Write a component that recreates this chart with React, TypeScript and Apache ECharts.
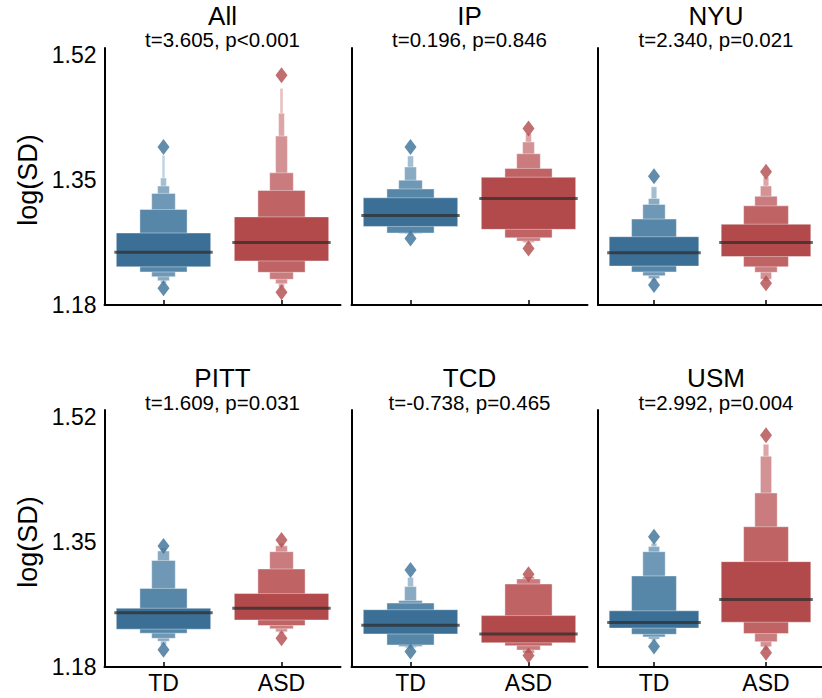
import React, { useEffect, useRef } from 'react';
import * as echarts from 'echarts';

const sites = ['All', 'IP', 'NYU', 'PITT', 'TCD', 'USM'];
const statLabels = [
  't=3.605, p<0.001',
  't=0.196, p=0.846',
  't=2.340, p=0.021',
  't=1.609, p=0.031',
  't=-0.738, p=0.465',
  't=2.992, p=0.004',
];
const groups = ['TD', 'ASD'];
const yTickValues = [1.18, 1.35, 1.52];

const tdMedian = [1.252, 1.302, 1.251, 1.254, 1.237, 1.2405];
const asdMedian = [1.265, 1.325, 1.265, 1.26, 1.225, 1.272];

// letter-value boxes per site, [low, high], widest (quartiles) first
const tdBoxes = [
  [[1.232, 1.278], [1.225, 1.31], [1.2185, 1.332], [1.213, 1.342], [1.2095, 1.353], [1.207, 1.384]],
  [[1.287, 1.326], [1.278, 1.338], [1.2775, 1.35], [1.2766, 1.368], [1.275, 1.383]],
  [[1.233, 1.273], [1.225, 1.297], [1.22, 1.317], [1.216, 1.325], [1.213, 1.341]],
  [[1.2315, 1.26], [1.226, 1.287], [1.219, 1.325], [1.215, 1.338], [1.21, 1.342]],
  [[1.225, 1.258], [1.21, 1.267], [1.208, 1.2705], [1.2065, 1.2895], [1.205, 1.302]],
  [[1.233, 1.2565], [1.2245, 1.304], [1.221, 1.337], [1.218, 1.344], [1.216, 1.3485]],
];
const asdBoxes = [
  [[1.24, 1.3], [1.2245, 1.336], [1.215, 1.36], [1.209, 1.41], [1.204, 1.441], [1.2, 1.475]],
  [[1.283, 1.354], [1.2715, 1.366], [1.267, 1.386], [1.265, 1.402], [1.263, 1.4135]],
  [[1.246, 1.29], [1.232, 1.315], [1.2245, 1.328], [1.215, 1.342], [1.213, 1.354]],
  [[1.244, 1.28], [1.2365, 1.3135], [1.232, 1.337], [1.228, 1.345], [1.226, 1.3485]],
  [[1.213, 1.25], [1.209, 1.293], [1.203, 1.3], [1.199, 1.303]],
  [[1.241, 1.3235], [1.2255, 1.371], [1.2145, 1.417], [1.2075, 1.467], [1.203, 1.4835]],
];
const tdOutliers = [
  [1.2027, 1.3953],
  [1.2707, 1.3953],
  [1.2072, 1.3554],
  [1.2034, 1.3448],
  [1.2011, 1.3122],
  [1.2079, 1.3575],
];
const asdOutliers = [
  [1.1973, 1.4928],
  [1.2571, 1.4203],
  [1.2095, 1.3613],
  [1.2193, 1.353],
  [1.1957, 1.3063],
  [1.1995, 1.4956],
];

const tdColors = ['#3b6f96', '#5686a8', '#6f98b6', '#89aac3', '#a4bed2', '#c3d5e3'];
const asdColors = ['#b24a4c', '#bf6365', '#c97b7d', '#d39294', '#dca6a7', '#e7c0c1'];

const FONT = '"Liberation Sans", Arial, Helvetica, sans-serif';
const colLeft = [104.5, 351.5, 598];
const rowTop = [48, 410];
const gridW = 236;
const gridH = 257;

function buildOption() {
  const grid: any[] = [];
  const xAxis: any[] = [];
  const yAxis: any[] = [];
  const series: any[] = [];
  const graphic: any[] = [];

  for (let p = 0; p < 6; p++) {
    const row = Math.floor(p / 3);
    const col = p % 3;
    grid.push({ left: colLeft[col], top: rowTop[row], width: gridW, height: gridH, containLabel: false });
    xAxis.push({
      type: 'category',
      gridIndex: p,
      data: groups,
      boundaryGap: true,
      axisLine: { show: true, lineStyle: { color: '#000', width: 2 } },
      axisTick: { show: true, inside: true, length: 5, alignWithLabel: true, lineStyle: { color: '#000', width: 1.5 } },
      axisLabel: { show: row === 1, fontSize: 23, color: '#000', fontFamily: FONT, margin: 4 },
      splitLine: { show: false },
    });
    yAxis.push({
      type: 'value',
      gridIndex: p,
      min: 1.18,
      max: 1.53,
      axisLine: { show: true, lineStyle: { color: '#000', width: 2 } },
      axisTick: { show: false },
      splitLine: { show: false },
      axisLabel: {
        show: col === 0,
        customValues: yTickValues,
        fontSize: 23,
        color: '#000',
        fontFamily: FONT,
        margin: 8,
        formatter: (v: number) => v.toFixed(2),
      },
    });

    const boxData: any[] = [];
    [tdBoxes[p], asdBoxes[p]].forEach((levels, cat) => {
      for (let lvl = levels.length - 1; lvl >= 0; lvl--) {
        boxData.push([cat, levels[lvl][0], levels[lvl][1], lvl]);
      }
    });
    series.push({
      type: 'custom',
      name: sites[p] + ' boxes',
      xAxisIndex: p,
      yAxisIndex: p,
      data: boxData,
      encode: { x: 0, y: [1, 2] },
      renderItem: (params: any, api: any) => {
        const cat = api.value(0);
        const lvl = api.value(3);
        const a = api.coord([cat, api.value(1)]);
        const b = api.coord([cat, api.value(2)]);
        const band = api.size([1, 0])[0];
        const w = band * 0.8 * Math.pow(0.5, lvl);
        const colors = cat === 0 ? tdColors : asdColors;
        return {
          type: 'rect',
          shape: { x: a[0] - w / 2, y: b[1], width: w, height: a[1] - b[1] },
          style: { fill: colors[Math.min(lvl, colors.length - 1)], stroke: 'rgba(255,255,255,0.4)', lineWidth: 1 },
        };
      },
    });
    series.push({
      type: 'custom',
      name: sites[p] + ' medians',
      xAxisIndex: p,
      yAxisIndex: p,
      z: 3,
      data: [[0, tdMedian[p]], [1, asdMedian[p]]],
      encode: { x: 0, y: 1 },
      renderItem: (params: any, api: any) => {
        const c = api.coord([api.value(0), api.value(1)]);
        const band = api.size([1, 0])[0];
        const w = band * 0.8 + 4;
        return {
          type: 'line',
          shape: { x1: c[0] - w / 2, y1: c[1], x2: c[0] + w / 2, y2: c[1] },
          style: { stroke: 'rgba(45,45,45,0.72)', lineWidth: 3 },
        };
      },
    });
    const outData: any[] = [];
    tdOutliers[p].forEach((v) => outData.push({ value: ['TD', v], itemStyle: { color: tdColors[0] } }));
    asdOutliers[p].forEach((v) => outData.push({ value: ['ASD', v], itemStyle: { color: asdColors[0] } }));
    series.push({
      type: 'scatter',
      name: sites[p] + ' outliers',
      xAxisIndex: p,
      yAxisIndex: p,
      z: 4,
      symbol: 'diamond',
      symbolSize: [12, 16],
      data: outData,
    });

    const cx = colLeft[col] + gridW / 2;
    graphic.push({
      type: 'text',
      x: cx,
      y: row === 0 ? 15.5 : 378,
      style: { text: sites[p], font: `26px ${FONT}`, fill: '#000', textAlign: 'center', textVerticalAlign: 'middle' },
    });
    graphic.push({
      type: 'text',
      x: cx,
      y: row === 0 ? 39.5 : 402.5,
      style: { text: statLabels[p], font: `20.5px ${FONT}`, fill: '#000', textAlign: 'center', textVerticalAlign: 'middle' },
    });
  }
  [180, 542].forEach((cy) => {
    graphic.push({
      type: 'text',
      x: 28,
      y: cy,
      rotation: Math.PI / 2,
      style: { text: 'log(SD)', font: `27px ${FONT}`, fill: '#000', textAlign: 'center', textVerticalAlign: 'middle' },
    });
  });

  return {
    animation: false,
    backgroundColor: '#fff',
    grid,
    xAxis,
    yAxis,
    series,
    graphic,
  };
}

export default function App() {
  const ref = useRef<HTMLDivElement>(null);
  useEffect(() => {
    if (!ref.current) return;
    const chart = echarts.init(ref.current, null, { renderer: 'svg' });
    chart.setOption(buildOption() as any);
    return () => chart.dispose();
  }, []);
  return (
    <div
      ref={ref}
      style={{ position: 'absolute', left: 0, top: 0, width: 822, height: 698, background: '#fff' }}
    />
  );
}
